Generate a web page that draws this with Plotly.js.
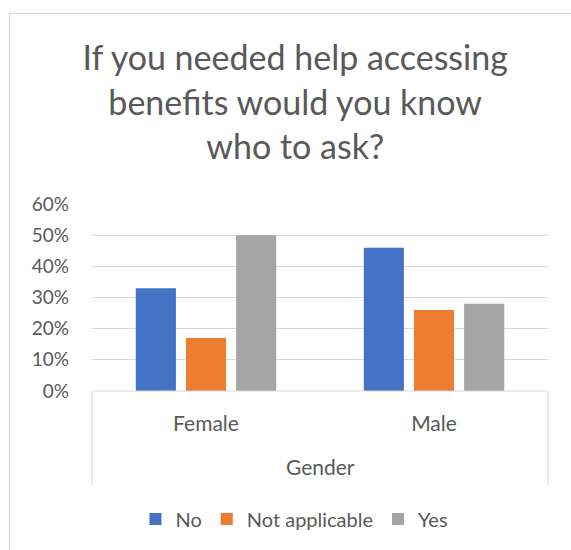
<!DOCTYPE html>
<html>
<head>
<meta charset="utf-8">
<script src="https://cdn.plot.ly/plotly-3.0.1.min.js"></script>
<style>
  html, body { margin: 0; padding: 0; background: #fff; }
  #wrap { position: relative; width: 571px; height: 550px; overflow: hidden; }
  #frame { position: absolute; left: 9px; top: 13px; width: 700px; height: 700px; border: 1px solid #d9d9d9; box-sizing: border-box; }
  #chart { position: absolute; left: 0; top: 0; width: 571px; height: 550px; }
</style>
</head>
<body>
<div id="wrap">
  <div id="frame"></div>
  <div id="chart"></div>
</div>
<script>
const categories = ["Female", "Male"];
const seriesNames = ["No", "Not applicable", "Yes"];
const noValues = [0.33, 0.46];
const notApplicableValues = [0.17, 0.26];
const yesValues = [0.50, 0.28];
const seriesColors = ["#4472C4", "#ED7D31", "#A5A5A5"];
const titleText = "If you needed help accessing<br>benefits would you know<br>who to ask?";
const axisTitle = "Gender";

const FONT = "Lato, 'Open Sans', sans-serif";
const TXT = "#595959";

const data = [noValues, notApplicableValues, yesValues].map((vals, i) => ({
  type: "bar",
  name: seriesNames[i],
  x: categories,
  y: vals,
  marker: { color: seriesColors[i] },
  hoverinfo: "none"
}));

const layout = {
  width: 571, height: 550,
  margin: { l: 92, r: 23, t: 204, b: 159 },
  paper_bgcolor: "rgba(0,0,0,0)",
  plot_bgcolor: "rgba(0,0,0,0)",
  font: { family: FONT, color: TXT },
  title: {
    text: titleText,
    font: { family: FONT, size: 34, color: TXT },
    x: 0.517, xanchor: "center",
    y: 0.872, yanchor: "top"
  },
  barmode: "group",
  bargap: 0.34,
  bargroupgap: 0.2,
  showlegend: true,
  legend: {
    orientation: "h",
    x: 0.444, xanchor: "center",
    y: -0.684, yanchor: "middle",
    font: { family: FONT, size: 20, color: TXT },
    itemwidth: 30,
    traceorder: "normal"
  },
  yaxis: {
    range: [0, 0.6],
    dtick: 0.1,
    tickformat: ".0%",
    showgrid: true,
    gridcolor: "#d9d9d9",
    gridwidth: 1,
    zeroline: false,
    showline: false,
    ticks: "",
    tickfont: { family: FONT, size: 19, color: TXT },
    ticklabelstandoff: 22,
    fixedrange: true
  },
  xaxis: {
    type: "category",
    showgrid: false,
    zeroline: false,
    showline: false,
    ticks: "",
    tickfont: { family: FONT, size: 21, color: TXT },
    ticklabelstandoff: 18,
    fixedrange: true
  },
  shapes: [
    { type: "line", xref: "paper", yref: "paper", x0: 0, x1: 1, y0: 0, y1: 0, line: { color: "#d9d9d9", width: 1 } },
    { type: "line", xref: "paper", yref: "paper", x0: 0, x1: 0, y0: 0, y1: -0.505, line: { color: "#d9d9d9", width: 1 } },
    { type: "line", xref: "paper", yref: "paper", x0: 1, x1: 1, y0: 0, y1: -0.505, line: { color: "#d9d9d9", width: 1 } }
  ],
  annotations: [
    { text: axisTitle, xref: "paper", yref: "paper", x: 0.5, y: -0.406, xanchor: "center", yanchor: "middle",
      showarrow: false, font: { family: FONT, size: 21, color: TXT } }
  ]
};

Plotly.newPlot("chart", data, layout, { displayModeBar: false, staticPlot: true });
</script>
</body>
</html>
